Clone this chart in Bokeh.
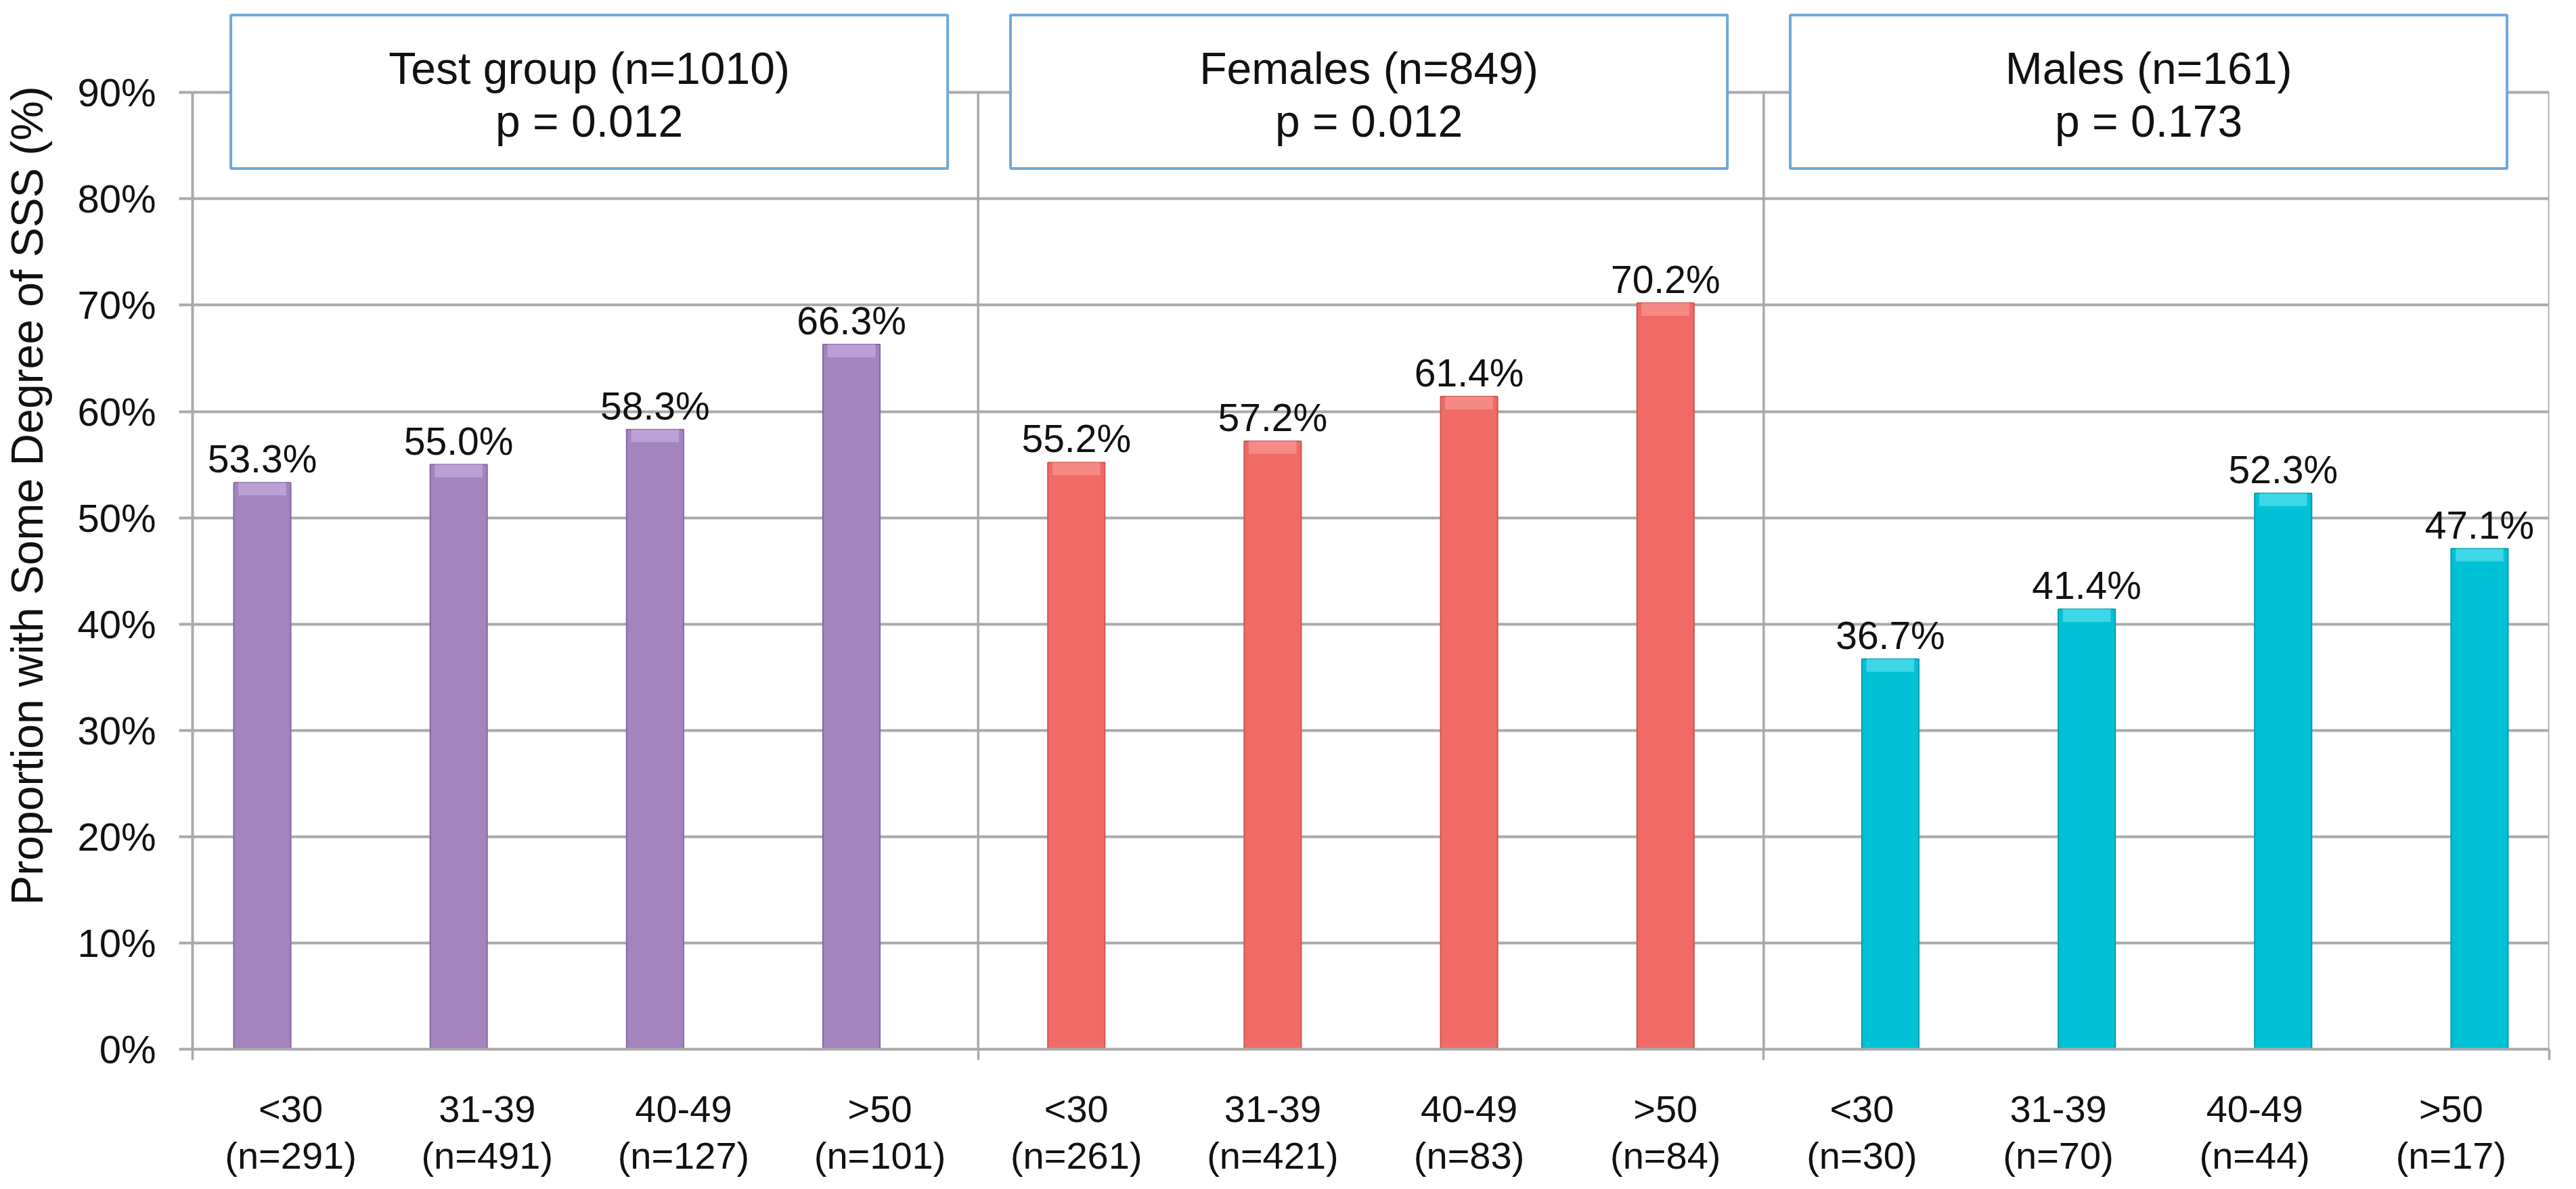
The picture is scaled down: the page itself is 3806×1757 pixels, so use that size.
import math
from bokeh.plotting import figure
from bokeh.layouts import row
from bokeh.models import Range1d, FixedTicker, ColumnDataSource
from bokeh.core.properties import value
from bokeh.embed import file_html
from bokeh.resources import INLINE

# ---- data ----
groups = ["Test group (n=1010)", "Females (n=849)", "Males (n=161)"]
p_values = ["p = 0.012", "p = 0.012", "p = 0.173"]
age_bins = ["<30", "31-39", "40-49", ">50"]
test_n = [291, 491, 127, 101]
female_n = [261, 421, 83, 84]
male_n = [30, 70, 44, 17]
test_pct = [53.3, 55.0, 58.3, 66.3]
female_pct = [55.2, 57.2, 61.4, 70.2]
male_pct = [36.7, 41.4, 52.3, 47.1]
y_ticks = [0, 10, 20, 30, 40, 50, 60, 70, 80, 90]
y_title = "Proportion with Some Degree of SSS (%)"

# ---- styles ----
FONT = "Liberation Sans"
TXT = "#111111"
fills = ["#A483BE", "#F06A66", "#00C1D5"]
edges = ["#8668A2", "#CC5652", "#009CAD"]
caps = ["#C4A9DC", "#F79592", "#52DDEC"]
offsets = [-0.145, 0.0, 0.145]
bar_w = 0.29
grid_col = "#A9A9A9"
n_per = len(age_bins)
n_groups = len(groups)
n_cat = n_per * n_groups

H = 1741
LEFT_W = 90

# left strip carrying the rotated y-axis title
t = figure(width=LEFT_W, height=H, output_backend="svg", toolbar_location=None,
           x_range=Range1d(0, LEFT_W), y_range=Range1d(0, H),
           x_axis_type=None, y_axis_type=None,
           min_border_left=0, min_border_right=0, min_border_top=0, min_border_bottom=0)
t.outline_line_color = None
t.grid.visible = False
t.text(x=[39], y=[H - 818], text=[y_title], angle=math.pi / 2,
       text_align="center", text_baseline="middle", text_font=value(FONT),
       text_font_size="66px", text_color=TXT)

p = figure(width=3790 - LEFT_W, height=H, output_backend="svg", toolbar_location=None,
           x_range=Range1d(0, n_cat), y_range=Range1d(0, 98.23),
           min_border_left=284 - LEFT_W, min_border_right=24,
           min_border_top=7, min_border_bottom=182)
p.outline_line_color = None
p.background_fill_color = "white"
p.border_fill_color = "white"

series_pct = [test_pct, female_pct, male_pct]
series_n = [test_n, female_n, male_n]

overrides = {}
for g in range(n_groups):
    xs = [g * n_per + i + 0.5 + offsets[g] for i in range(n_per)]
    vals = series_pct[g]
    src = ColumnDataSource(dict(x=xs, top=vals,
                                cap_bottom=[v - 1.2 for v in vals],
                                lab=[f"{v:.1f}%" for v in vals]))
    p.vbar(x="x", top="top", bottom=0, width=bar_w, source=src,
           fill_color=fills[g], line_color=edges[g], line_width=2)
    p.vbar(x="x", top="top", bottom="cap_bottom", width=bar_w * 0.84, source=src,
           fill_color=caps[g], line_color=None, fill_alpha=0.75)
    p.text(x="x", y="top", text="lab", source=src, text_align="center",
           text_baseline="alphabetic", y_offset=-35, text_font=value(FONT),
           text_font_size="57px", text_color=TXT)
    for i in range(n_per):
        overrides[g * n_per + i + 0.5] = f"{age_bins[i]}\n(n={series_n[g][i]})"

# group separators and right border
sep_x = [float((g + 1) * n_per) for g in range(n_groups)]
p.segment(x0=sep_x, y0=[0] * len(sep_x), x1=sep_x, y1=[y_ticks[-1]] * len(sep_x),
          line_color=grid_col, line_width=3.5)

# group header boxes
box_cx = [2.02, 5.99, 9.96]
p.rect(x=box_cx, y=[90.07] * n_groups, width=3.65, height=14.43,
       fill_color="white", line_color="#6FA8DA", line_width=4)
p.text(x=box_cx, y=[89.8] * n_groups,
       text=[f"{groups[g]}\n{p_values[g]}" for g in range(n_groups)],
       text_align="center", text_baseline="middle", text_font=value(FONT),
       text_font_size="66px", text_color=TXT, text_line_height=1.06)

# y axis
p.yaxis.ticker = FixedTicker(ticks=y_ticks)
p.yaxis.bounds = (y_ticks[0], y_ticks[-1])
p.yaxis.major_label_overrides = {tk: f"{tk}%" for tk in y_ticks}
p.yaxis.major_label_text_font = FONT
p.yaxis.major_label_text_font_size = "58px"
p.yaxis.major_label_text_color = TXT
p.yaxis.major_label_standoff = 34
p.yaxis.major_tick_out = 20
p.yaxis.major_tick_in = 0
p.yaxis.minor_tick_line_color = None
p.yaxis.axis_line_color = grid_col
p.yaxis.axis_line_width = 4
p.yaxis.major_tick_line_color = grid_col
p.yaxis.major_tick_line_width = 4

# x axis
p.xaxis.ticker = FixedTicker(ticks=[i + 0.5 for i in range(n_cat)],
                             minor_ticks=[0.0] + sep_x)
p.xaxis.major_label_overrides = overrides
p.xaxis.major_label_text_font = FONT
p.xaxis.major_label_text_font_size = "56px"
p.xaxis.major_label_text_color = TXT
p.xaxis.major_label_text_line_height = 1.1
p.xaxis.major_label_standoff = 40
p.xaxis.major_tick_out = 0
p.xaxis.major_tick_in = 0
p.xaxis.major_tick_line_color = None
p.xaxis.minor_tick_out = 16
p.xaxis.minor_tick_in = 0
p.xaxis.minor_tick_line_color = grid_col
p.xaxis.minor_tick_line_width = 3.5
p.xaxis.axis_line_color = grid_col
p.xaxis.axis_line_width = 4

# grids
p.xgrid.grid_line_color = None
p.ygrid.grid_line_color = grid_col
p.ygrid.grid_line_width = 4

layout = row(t, p, spacing=0)
open("out.html", "w").write(file_html(layout, INLINE))
